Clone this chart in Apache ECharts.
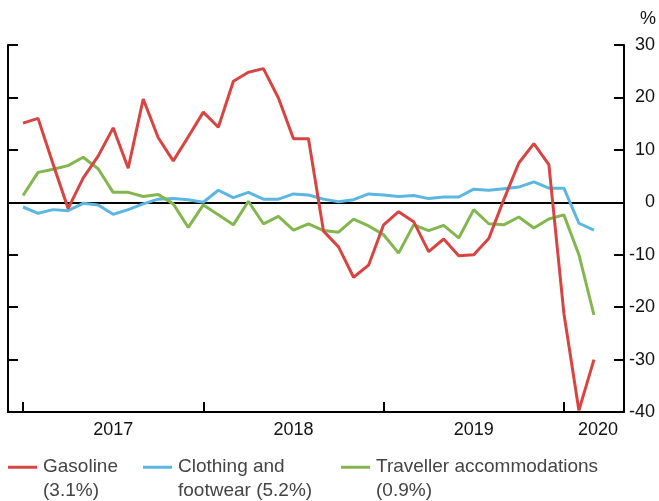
<!DOCTYPE html>
<html>
<head>
<meta charset="utf-8">
<script src="https://cdn.jsdelivr.net/npm/echarts@6/dist/echarts.min.js"></script>
<style>
  html, body { margin: 0; padding: 0; background: #fff; }
  #chart { width: 659px; height: 501px; }
</style>
</head>
<body>
<div id="chart"></div>
<script>
// axis runs one month before the first observation and two after the last
const axisMonths = [
  "2016-12",
  "2017-01", "2017-02", "2017-03", "2017-04", "2017-05", "2017-06",
  "2017-07", "2017-08", "2017-09", "2017-10", "2017-11", "2017-12",
  "2018-01", "2018-02", "2018-03", "2018-04", "2018-05", "2018-06",
  "2018-07", "2018-08", "2018-09", "2018-10", "2018-11", "2018-12",
  "2019-01", "2019-02", "2019-03", "2019-04", "2019-05", "2019-06",
  "2019-07", "2019-08", "2019-09", "2019-10", "2019-11", "2019-12",
  "2020-01", "2020-02", "2020-03", "2020-04", "2020-05"
];
const dataMonths = axisMonths.slice(1, 40); // 2017-01 .. 2020-03

const gasoline = [15.1, 16.0, 7.3, -1.2, 4.6, 8.8, 14.2, 6.5, 19.7, 12.3, 7.9, 12.5,
  17.2, 14.3, 23.1, 24.8, 25.5, 19.9, 12.1, 12.1, -5.5, -8.5, -14.3, -12.0,
  -4.3, -1.8, -3.7, -9.4, -7.0, -10.2, -10.0, -6.9, 0.5, 7.5, 11.2, 7.2,
  -21.2, -39.7, -30.0];
const clothing = [-0.9, -2.1, -1.4, -1.6, -0.2, -0.5, -2.3, -1.4, -0.3, 0.6, 0.7, 0.5,
  0.0, 2.3, 0.9, 1.9, 0.6, 0.6, 1.6, 1.4, 0.6, 0.1, 0.5, 1.6,
  1.4, 1.1, 1.3, 0.7, 1.0, 1.0, 2.5, 2.3, 2.6, 2.9, 3.9, 2.7,
  2.7, -4.0, -5.3];
const traveller = [1.3, 5.7, 6.3, 7.0, 8.6, 6.4, 1.9, 1.9, 1.1, 1.5, -0.3, -4.8,
  -0.5, -2.4, -4.3, 0.2, -4.1, -2.7, -5.3, -4.1, -5.4, -5.7, -3.2, -4.5,
  -6.2, -9.7, -4.3, -5.4, -4.4, -6.8, -1.4, -4.1, -4.3, -2.8, -4.9, -3.2,
  -2.4, -10.0, -21.5];

const seriesNames = ["Gasoline", "Clothing and footwear", "Traveller accommodations"];
const legendLabels = ["Gasoline\n(3.1%)", "Clothing and\nfootwear (5.2%)", "Traveller accommodations\n(0.9%)"];
const colors = ["#d64541", "#5cb6e2", "#84b650"];
const tickIdx = [1, 13, 25, 37];
const labelIdx = [7, 19, 31, 39];

const font = "'Liberation Sans', Arial, Helvetica, sans-serif";
const chart = echarts.init(document.getElementById("chart"));

function pairs(values) {
  return values.map((v, i) => [dataMonths[i], v]);
}

const yCommon = {
  type: "value",
  min: -40,
  max: 30,
  interval: 10,
  splitLine: { show: false },
  axisLine: { show: true, onZero: false, lineStyle: { color: "#000", width: 2 } },
  axisTick: { show: true, inside: true, length: 10, lineStyle: { color: "#000", width: 2 } }
};

const legendLefts = [8, 143, 341];

chart.setOption({
  animation: false,
  color: colors,
  grid: { left: 8, right: 33, top: 45, bottom: 89, containLabel: false },
  legend: seriesNames.map((name, i) => ({
    data: [name],
    left: legendLefts[i],
    top: 432,
    padding: 0,
    icon: "rect",
    itemWidth: 29,
    itemHeight: 3,
    itemGap: 0,
    selectedMode: false,
    formatter: () => "\n" + legendLabels[i],
    textStyle: { fontFamily: font, fontSize: 19, color: "#444", lineHeight: 23.5, padding: [0, 0, 0, 1] }
  })),
  xAxis: {
    type: "category",
    data: axisMonths,
    boundaryGap: false,
    axisLine: { onZero: false, lineStyle: { color: "#000", width: 2 } },
    axisTick: {
      inside: true,
      length: 10,
      interval: (idx) => tickIdx.includes(idx),
      lineStyle: { color: "#000", width: 2 }
    },
    axisLabel: {
      interval: (idx) => labelIdx.includes(idx),
      margin: 9,
      fontFamily: font,
      fontSize: 18,
      color: "#111",
      formatter: (v) => v.slice(0, 4) === "2020" ? "{s|2020}" : v.slice(0, 4),
      rich: { s: { fontFamily: font, fontSize: 18, color: "#111", padding: [0, 0, 0, 8] } }
    },
    splitLine: { show: false }
  },
  yAxis: [
    Object.assign({}, yCommon, {
      position: "right",
      name: "%",
      nameLocation: "end",
      nameGap: 17,
      nameTextStyle: { fontFamily: font, fontSize: 18, color: "#111", align: "left", padding: [0, 0, 0, 16] },
      axisLabel: { fontFamily: font, fontSize: 18, color: "#111", align: "right", margin: 31 }
    }),
    Object.assign({}, yCommon, {
      position: "left",
      axisLabel: { show: false }
    })
  ],
  series: [
    {
      name: seriesNames[0],
      type: "line",
      data: pairs(gasoline),
      symbol: "none",
      lineStyle: { width: 3 },
      z: 3,
      markLine: {
        silent: true,
        symbol: "none",
        label: { show: false },
        lineStyle: { color: "#000", width: 2, type: "solid" },
        data: [{ yAxis: 0 }],
        z: 1
      }
    },
    { name: seriesNames[1], type: "line", data: pairs(clothing), symbol: "none", lineStyle: { width: 3 }, z: 2 },
    { name: seriesNames[2], type: "line", data: pairs(traveller), symbol: "none", lineStyle: { width: 3 }, z: 2 }
  ]
});
</script>
</body>
</html>
